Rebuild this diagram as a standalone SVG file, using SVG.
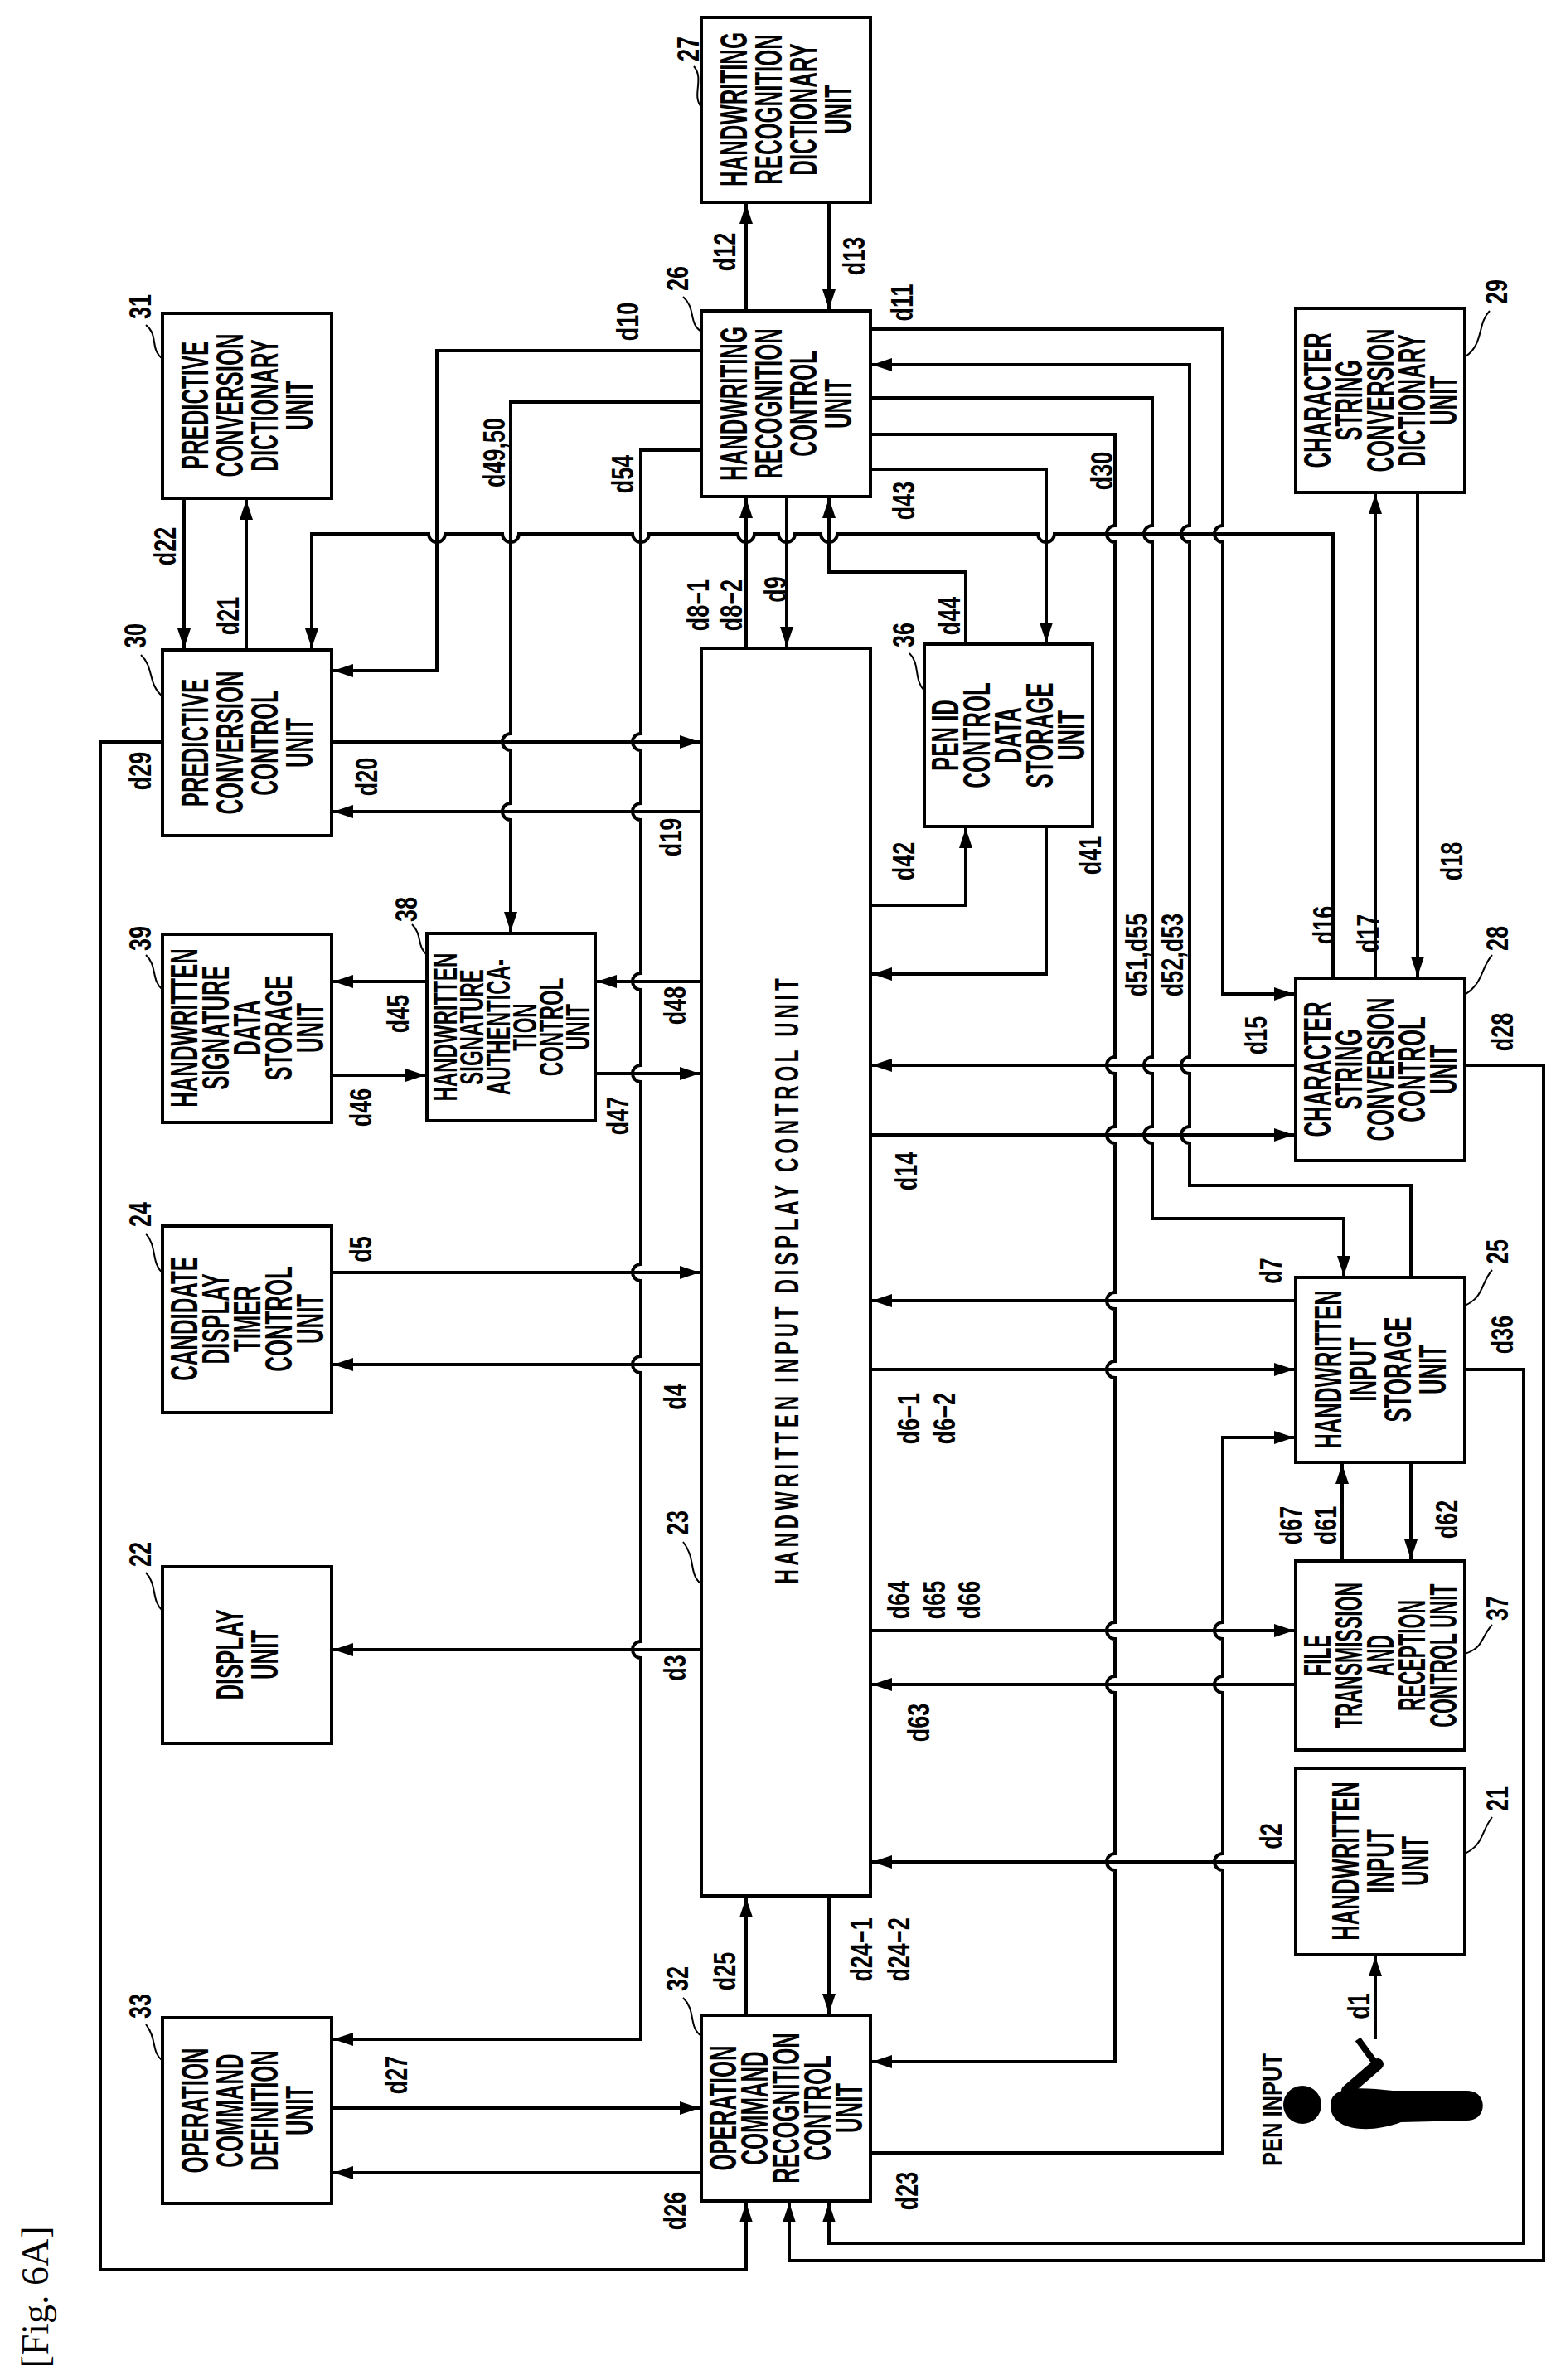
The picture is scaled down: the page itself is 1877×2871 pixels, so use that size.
<svg xmlns="http://www.w3.org/2000/svg" width="1877" height="2871" viewBox="0 0 1877 2871">
<style>
.box{fill:#fff;stroke:#000;stroke-width:4}
.bt{font-family:"Liberation Sans",Arial,sans-serif;font-size:46px;font-weight:bold;text-anchor:middle;dominant-baseline:central}
.lb{font-family:"Liberation Sans",Arial,sans-serif;font-size:36px;font-weight:bold;text-anchor:middle;dominant-baseline:central}
.c{fill:none;stroke:#000;stroke-width:4}
.ld{fill:none;stroke:#000;stroke-width:2}
</style>
<defs>
<marker id="a" markerUnits="userSpaceOnUse" markerWidth="26" markerHeight="18" refX="24" refY="8" orient="auto"><path d="M0,0 L24,8 L0,16 z" fill="#000"/></marker>
</defs>
<rect width="1877" height="2871" fill="#fff"/>

<g id="connectors" class="c" marker-end="url(#a)">
<path d="M900,375 V246"/>
<path d="M1000,244 V373"/>
<path d="M846,423 H527 V809 H402"/>
<path d="M846,485 H616 V885 A10,10 0 0 0 616,905 V969 A10,10 0 0 0 616,989 V1124"/>
<path d="M846,543 H773 V885 A10,10 0 0 0 773,905 V969 A10,10 0 0 0 773,989 V1174 A10,10 0 0 0 773,1194 V1285 A10,10 0 0 0 773,1305 V1525 A10,10 0 0 0 773,1545 V1636 A10,10 0 0 0 773,1656 V1980 A10,10 0 0 0 773,2000 V2460 H402"/>
<path d="M900,782 V601"/>
<path d="M949,599 V780"/>
<path d="M1165,777 V690 H1000 V601"/>
<path d="M1050,566 H1262 V775"/>
<path d="M1050,1092 H1165 V999"/>
<path d="M1262,997 V1175 H1052"/>
<path d="M1050,524 H1345 V634 A10,10 0 0 0 1345,654 V1275 A10,10 0 0 0 1345,1295 V1359 A10,10 0 0 0 1345,1379 V1559 A10,10 0 0 0 1345,1579 V1642 A10,10 0 0 0 1345,1662 V1957 A10,10 0 0 0 1345,1977 V2022 A10,10 0 0 0 1345,2042 V2236 A10,10 0 0 0 1345,2256 V2487 H1052"/>
<path d="M1050,480 H1390 V634 A10,10 0 0 0 1390,654 V1275 A10,10 0 0 0 1390,1295 V1359 A10,10 0 0 0 1390,1379 V1470 H1621 V1539"/>
<path d="M1702,1541 V1430 H1435 V1379 A10,10 0 0 1 1435,1359 V1295 A10,10 0 0 1 1435,1275 V654 A10,10 0 0 1 1435,634 V440 H1052"/>
<path d="M1050,397 H1475 V634 A10,10 0 0 0 1475,654 V1199 H1561"/>
<path d="M1608,1180 V644 H1272 A10,10 0 0 1 1252,644 H1010 A10,10 0 0 1 990,644 H959 A10,10 0 0 1 939,644 H910 A10,10 0 0 1 890,644 H783 A10,10 0 0 1 763,644 H626 A10,10 0 0 1 606,644 H537 A10,10 0 0 1 517,644 H376 V782"/>
<path d="M1659,1180 V596"/>
<path d="M1710,594 V1178"/>
<path d="M297,784 V603"/>
<path d="M222,601 V782"/>
<path d="M400,895 H844"/>
<path d="M846,979 H402"/>
<path d="M515,1184 H402"/>
<path d="M400,1297 H513"/>
<path d="M846,1184 H720"/>
<path d="M718,1295 H844"/>
<path d="M400,1535 H844"/>
<path d="M846,1646 H402"/>
<path d="M846,1990 H402"/>
<path d="M1563,1285 H1052"/>
<path d="M1050,1369 H1561"/>
<path d="M1563,1569 H1052"/>
<path d="M1050,1652 H1561"/>
<path d="M1050,2597 H1475 V2256 A10,10 0 0 1 1475,2236 V2042 A10,10 0 0 1 1475,2022 V1977 A10,10 0 0 1 1475,1957 V1734 H1561"/>
<path d="M1619,1883 V1766"/>
<path d="M1702,1764 V1881"/>
<path d="M1050,1967 H1561"/>
<path d="M1563,2032 H1052"/>
<path d="M1563,2246 H1052"/>
<path d="M1659,2460 V2360"/>
<path d="M1767,1652 H1838 V2706 H1000 V2657"/>
<path d="M1767,1285 H1862 V2727 H952 V2657"/>
<path d="M196,895 H121 V2738 H900 V2657"/>
<path d="M900,2431 V2289"/>
<path d="M1000,2287 V2429"/>
<path d="M400,2543 H844"/>
<path d="M846,2621 H402"/>
</g>

<g id="leaders" class="ld">
<path d="M837,80 C850,95 834,115 846,129"/>
<path d="M824,358 C840,372 830,390 846,400"/>
<path d="M176,392 C192,405 180,420 196,433"/>
<path d="M1797,375 C1782,390 1790,415 1768,430"/>
<path d="M170,790 C186,805 178,825 196,840"/>
<path d="M1097,788 C1110,800 1102,820 1115,833"/>
<path d="M176,1152 C190,1165 182,1182 196,1194"/>
<path d="M497,1115 C510,1128 502,1140 515,1152"/>
<path d="M1800,1152 C1786,1168 1790,1185 1767,1200"/>
<path d="M176,1488 C190,1505 182,1522 196,1536"/>
<path d="M1800,1532 C1786,1548 1790,1565 1767,1575"/>
<path d="M176,1897 C190,1912 182,1930 196,1943"/>
<path d="M824,1860 C840,1880 830,1898 846,1911"/>
<path d="M1800,1960 C1786,1975 1790,1988 1767,1995"/>
<path d="M1800,2192 C1786,2210 1790,2225 1767,2236"/>
<path d="M824,2410 C840,2425 830,2445 846,2456"/>
<path d="M176,2442 C190,2460 182,2475 196,2486"/>
</g>

<g id="n27"><rect class="box" x="846" y="21" width="204" height="223"/><text class="bt" transform="translate(948,132) rotate(-90) scale(0.56,1)"><tspan x="0" y="-63">HANDWRITING</tspan><tspan x="0" y="-21">RECOGNITION</tspan><tspan x="0" y="21">DICTIONARY</tspan><tspan x="0" y="63">UNIT</tspan></text><text class="lb" transform="translate(831,59) rotate(-90) scale(0.75,1)">27</text></g>
<g id="n26"><rect class="box" x="846" y="375" width="204" height="224"/><text class="bt" transform="translate(948,487) rotate(-90) scale(0.56,1)"><tspan x="0" y="-63">HANDWRITING</tspan><tspan x="0" y="-21">RECOGNITION</tspan><tspan x="0" y="21">CONTROL</tspan><tspan x="0" y="63">UNIT</tspan></text><text class="lb" transform="translate(818,336) rotate(-90) scale(0.75,1)">26</text></g>
<g id="n31"><rect class="box" x="196" y="378" width="204" height="223"/><text class="bt" transform="translate(298,489) rotate(-90) scale(0.56,1)"><tspan x="0" y="-63">PREDICTIVE</tspan><tspan x="0" y="-21">CONVERSION</tspan><tspan x="0" y="21">DICTIONARY</tspan><tspan x="0" y="63">UNIT</tspan></text><text class="lb" transform="translate(170,370) rotate(-90) scale(0.75,1)">31</text></g>
<g id="n29"><rect class="box" x="1563" y="372" width="204" height="222"/><text class="bt" transform="translate(1665,483) rotate(-90) scale(0.56,1)"><tspan x="0" y="-76">CHARACTER</tspan><tspan x="0" y="-38">STRING</tspan><tspan x="0" y="0">CONVERSION</tspan><tspan x="0" y="38">DICTIONARY</tspan><tspan x="0" y="76">UNIT</tspan></text><text class="lb" transform="translate(1806,352) rotate(-90) scale(0.75,1)">29</text></g>
<g id="n30"><rect class="box" x="196" y="784" width="204" height="224"/><text class="bt" transform="translate(298,896) rotate(-90) scale(0.56,1)"><tspan x="0" y="-63">PREDICTIVE</tspan><tspan x="0" y="-21">CONVERSION</tspan><tspan x="0" y="21">CONTROL</tspan><tspan x="0" y="63">UNIT</tspan></text><text class="lb" transform="translate(164,767) rotate(-90) scale(0.75,1)">30</text></g>
<g id="n23"><rect class="box" x="846" y="782" width="204" height="1505"/><text class="bt" style="font-size:40px;letter-spacing:8px" transform="translate(949,1543) rotate(-90) scale(0.6,1)">HANDWRITTEN INPUT DISPLAY CONTROL UNIT</text><text class="lb" transform="translate(818,1837) rotate(-90) scale(0.75,1)">23</text></g>
<g id="n36"><rect class="box" x="1115" y="777" width="203" height="220"/><text class="bt" transform="translate(1216,887) rotate(-90) scale(0.56,1)"><tspan x="0" y="-76">PEN ID</tspan><tspan x="0" y="-38">CONTROL</tspan><tspan x="0" y="0">DATA</tspan><tspan x="0" y="38">STORAGE</tspan><tspan x="0" y="76">UNIT</tspan></text><text class="lb" transform="translate(1091,766) rotate(-90) scale(0.75,1)">36</text></g>
<g id="n39"><rect class="box" x="196" y="1127" width="204" height="227"/><text class="bt" transform="translate(298,1240) rotate(-90) scale(0.56,1)"><tspan x="0" y="-76">HANDWRITTEN</tspan><tspan x="0" y="-38">SIGNATURE</tspan><tspan x="0" y="0">DATA</tspan><tspan x="0" y="38">STORAGE</tspan><tspan x="0" y="76">UNIT</tspan></text><text class="lb" transform="translate(170,1132) rotate(-90) scale(0.75,1)">39</text></g>
<g id="n38"><rect class="box" x="515" y="1126" width="203" height="226"/><text class="bt" style="font-size:40px" transform="translate(616,1239) rotate(-90) scale(0.6,1)"><tspan x="0" y="-80">HANDWRITTEN</tspan><tspan x="0" y="-48">SIGNATURE</tspan><tspan x="0" y="-16">AUTHENTICA-</tspan><tspan x="0" y="16">TION</tspan><tspan x="0" y="48">CONTROL</tspan><tspan x="0" y="80">UNIT</tspan></text><text class="lb" transform="translate(491,1097) rotate(-90) scale(0.75,1)">38</text></g>
<g id="n24"><rect class="box" x="196" y="1479" width="204" height="225"/><text class="bt" transform="translate(298,1591) rotate(-90) scale(0.56,1)"><tspan x="0" y="-76">CANDIDATE</tspan><tspan x="0" y="-38">DISPLAY</tspan><tspan x="0" y="0">TIMER</tspan><tspan x="0" y="38">CONTROL</tspan><tspan x="0" y="76">UNIT</tspan></text><text class="lb" transform="translate(170,1465) rotate(-90) scale(0.75,1)">24</text></g>
<g id="n22"><rect class="box" x="196" y="1890" width="204" height="213"/><text class="bt" transform="translate(298,1996) rotate(-90) scale(0.56,1)"><tspan x="0" y="-21">DISPLAY</tspan><tspan x="0" y="21">UNIT</tspan></text><text class="lb" transform="translate(170,1875) rotate(-90) scale(0.75,1)">22</text></g>
<g id="n28"><rect class="box" x="1563" y="1180" width="204" height="220"/><text class="bt" transform="translate(1665,1290) rotate(-90) scale(0.56,1)"><tspan x="0" y="-76">CHARACTER</tspan><tspan x="0" y="-38">STRING</tspan><tspan x="0" y="0">CONVERSION</tspan><tspan x="0" y="38">CONTROL</tspan><tspan x="0" y="76">UNIT</tspan></text><text class="lb" transform="translate(1807,1132) rotate(-90) scale(0.75,1)">28</text></g>
<g id="n25"><rect class="box" x="1563" y="1541" width="204" height="223"/><text class="bt" transform="translate(1665,1652) rotate(-90) scale(0.56,1)"><tspan x="0" y="-63">HANDWRITTEN</tspan><tspan x="0" y="-21">INPUT</tspan><tspan x="0" y="21">STORAGE</tspan><tspan x="0" y="63">UNIT</tspan></text><text class="lb" transform="translate(1807,1510) rotate(-90) scale(0.75,1)">25</text></g>
<g id="n37"><rect class="box" x="1563" y="1883" width="204" height="228"/><text class="bt" transform="translate(1665,1997) rotate(-90) scale(0.5,1)"><tspan x="0" y="-76">FILE</tspan><tspan x="0" y="-38">TRANSMISSION</tspan><tspan x="0" y="0">AND</tspan><tspan x="0" y="38">RECEPTION</tspan><tspan x="0" y="76">CONTROL UNIT</tspan></text><text class="lb" transform="translate(1807,1940) rotate(-90) scale(0.75,1)">37</text></g>
<g id="n21"><rect class="box" x="1563" y="2133" width="204" height="225"/><text class="bt" transform="translate(1665,2245) rotate(-90) scale(0.56,1)"><tspan x="0" y="-42">HANDWRITTEN</tspan><tspan x="0" y="0">INPUT</tspan><tspan x="0" y="42">UNIT</tspan></text><text class="lb" transform="translate(1807,2170) rotate(-90) scale(0.75,1)">21</text></g>
<g id="n32"><rect class="box" x="846" y="2431" width="204" height="224"/><text class="bt" transform="translate(948,2543) rotate(-90) scale(0.56,1)"><tspan x="0" y="-76">OPERATION</tspan><tspan x="0" y="-38">COMMAND</tspan><tspan x="0" y="0">RECOGNITION</tspan><tspan x="0" y="38">CONTROL</tspan><tspan x="0" y="76">UNIT</tspan></text><text class="lb" transform="translate(818,2387) rotate(-90) scale(0.75,1)">32</text></g>
<g id="n33"><rect class="box" x="196" y="2434" width="204" height="224"/><text class="bt" transform="translate(298,2546) rotate(-90) scale(0.56,1)"><tspan x="0" y="-63">OPERATION</tspan><tspan x="0" y="-21">COMMAND</tspan><tspan x="0" y="21">DEFINITION</tspan><tspan x="0" y="63">UNIT</tspan></text><text class="lb" transform="translate(170,2420) rotate(-90) scale(0.75,1)">33</text></g>

<g id="pen">
<circle cx="1571" cy="2539" r="23"/>
<path d="M1605,2540 C1605,2515 1640,2518 1680,2522 L1770,2522 C1795,2522 1795,2558 1770,2558 L1690,2560 C1650,2575 1605,2570 1605,2540 Z"/>
<path d="M1625,2522 L1662,2490" stroke="#000" stroke-width="14" stroke-linecap="round"/>
<path d="M1660,2490 L1638,2460" stroke="#000" stroke-width="8"/>
<text class="lb" style="font-size:34px" transform="translate(1534,2545) rotate(-90) scale(0.75,1)">PEN INPUT</text>
</g>

<g id="labels">
<text class="lb" transform="translate(875,304) rotate(-90) scale(0.75,1)">d12</text>
<text class="lb" transform="translate(1031,309) rotate(-90) scale(0.75,1)">d13</text>
<text class="lb" transform="translate(758,388) rotate(-90) scale(0.75,1)">d10</text>
<text class="lb" transform="translate(1089,365) rotate(-90) scale(0.75,1)">d11</text>
<text class="lb" transform="translate(597,546) rotate(-90) scale(0.75,1)">d49,50</text>
<text class="lb" transform="translate(752,572) rotate(-90) scale(0.75,1)">d54</text>
<text class="lb" transform="translate(1091,604) rotate(-90) scale(0.75,1)">d43</text>
<text class="lb" transform="translate(1330,568) rotate(-90) scale(0.75,1)">d30</text>
<text class="lb" transform="translate(200,659) rotate(-90) scale(0.75,1)">d22</text>
<text class="lb" transform="translate(276,743) rotate(-90) scale(0.75,1)">d21</text>
<text class="lb" transform="translate(843,730) rotate(-90) scale(0.75,1)">d8−1</text>
<text class="lb" transform="translate(883,730) rotate(-90) scale(0.75,1)">d8−2</text>
<text class="lb" transform="translate(936,711) rotate(-90) scale(0.75,1)">d9</text>
<text class="lb" transform="translate(1146,743) rotate(-90) scale(0.75,1)">d44</text>
<text class="lb" transform="translate(170,930) rotate(-90) scale(0.75,1)">d29</text>
<text class="lb" transform="translate(443,937) rotate(-90) scale(0.75,1)">d20</text>
<text class="lb" transform="translate(810,1010) rotate(-90) scale(0.75,1)">d19</text>
<text class="lb" transform="translate(1091,1039) rotate(-90) scale(0.75,1)">d42</text>
<text class="lb" transform="translate(1316,1032) rotate(-90) scale(0.75,1)">d41</text>
<text class="lb" transform="translate(1752,1039) rotate(-90) scale(0.75,1)">d18</text>
<text class="lb" transform="translate(1598,1116) rotate(-90) scale(0.75,1)">d16</text>
<text class="lb" transform="translate(1651,1126) rotate(-90) scale(0.75,1)">d17</text>
<text class="lb" transform="translate(1372,1152) rotate(-90) scale(0.75,1)">d51,d55</text>
<text class="lb" transform="translate(1415,1152) rotate(-90) scale(0.75,1)">d52,d53</text>
<text class="lb" transform="translate(481,1223) rotate(-90) scale(0.75,1)">d45</text>
<text class="lb" transform="translate(815,1213) rotate(-90) scale(0.75,1)">d48</text>
<text class="lb" transform="translate(1516,1249) rotate(-90) scale(0.75,1)">d15</text>
<text class="lb" transform="translate(1813,1245) rotate(-90) scale(0.75,1)">d28</text>
<text class="lb" transform="translate(436,1336) rotate(-90) scale(0.75,1)">d46</text>
<text class="lb" transform="translate(746,1346) rotate(-90) scale(0.75,1)">d47</text>
<text class="lb" transform="translate(1094,1413) rotate(-90) scale(0.75,1)">d14</text>
<text class="lb" transform="translate(436,1507) rotate(-90) scale(0.75,1)">d5</text>
<text class="lb" transform="translate(1534,1533) rotate(-90) scale(0.75,1)">d7</text>
<text class="lb" transform="translate(1813,1610) rotate(-90) scale(0.75,1)">d36</text>
<text class="lb" transform="translate(815,1685) rotate(-90) scale(0.75,1)">d4</text>
<text class="lb" transform="translate(1097,1711) rotate(-90) scale(0.75,1)">d6−1</text>
<text class="lb" transform="translate(1140,1711) rotate(-90) scale(0.75,1)">d6−2</text>
<text class="lb" transform="translate(1558,1840) rotate(-90) scale(0.75,1)">d67</text>
<text class="lb" transform="translate(1600,1840) rotate(-90) scale(0.75,1)">d61</text>
<text class="lb" transform="translate(1746,1833) rotate(-90) scale(0.75,1)">d62</text>
<text class="lb" transform="translate(1085,1930) rotate(-90) scale(0.75,1)">d64</text>
<text class="lb" transform="translate(1128,1930) rotate(-90) scale(0.75,1)">d65</text>
<text class="lb" transform="translate(1170,1930) rotate(-90) scale(0.75,1)">d66</text>
<text class="lb" transform="translate(815,2012) rotate(-90) scale(0.75,1)">d3</text>
<text class="lb" transform="translate(1109,2078) rotate(-90) scale(0.75,1)">d63</text>
<text class="lb" transform="translate(1534,2215) rotate(-90) scale(0.75,1)">d2</text>
<text class="lb" transform="translate(1040,2352) rotate(-90) scale(0.75,1)">d24−1</text>
<text class="lb" transform="translate(1085,2352) rotate(-90) scale(0.75,1)">d24−2</text>
<text class="lb" transform="translate(875,2378) rotate(-90) scale(0.75,1)">d25</text>
<text class="lb" transform="translate(1640,2420) rotate(-90) scale(0.75,1)">d1</text>
<text class="lb" transform="translate(479,2503) rotate(-90) scale(0.75,1)">d27</text>
<text class="lb" transform="translate(815,2667) rotate(-90) scale(0.75,1)">d26</text>
<text class="lb" transform="translate(1095,2643) rotate(-90) scale(0.75,1)">d23</text>
<text style="font-family:'Liberation Serif',serif;font-size:46px;text-anchor:middle;dominant-baseline:central" transform="translate(42,2771) rotate(-90)">[Fig. 6A]</text>
</g>
</svg>
